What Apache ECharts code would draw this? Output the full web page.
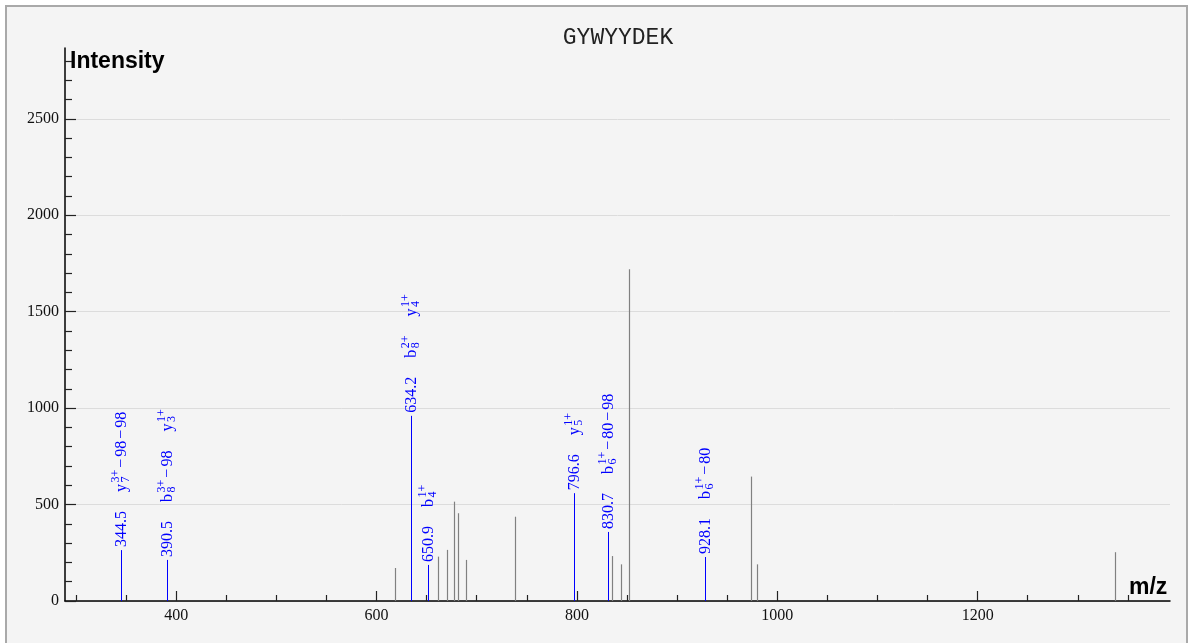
<!DOCTYPE html>
<html><head><meta charset="utf-8">
<script src="https://cdn.jsdelivr.net/npm/echarts@6/dist/echarts.min.js"></script>
<style>
html,body{margin:0;padding:0;background:#fff;overflow:hidden;}
#frame{position:absolute;left:5px;top:5px;width:1179px;height:660px;border:2px solid #a9a9a9;background:#f4f4f4;}
#chart{position:absolute;left:0;top:0;width:1188px;height:643px;}
</style></head><body>
<div id="frame"></div><div id="chart"></div>
<script>
// ---------------- data ----------------
const chartTitle = 'GYWYYDEK';
const yAxisName = 'Intensity';
const xAxisName = 'm/z';
const xMin = 289, xMax = 1392, yMin = 0, yMax = 2867;
const xMajorTicks = [400, 600, 800, 1000, 1200];
const xMinorTicks = [300, 350, 450, 500, 550, 650, 700, 750, 850, 900, 950, 1050, 1100, 1150, 1250, 1300, 1350];
const yMajorTicks = [0, 500, 1000, 1500, 2000, 2500];
const yMinorTicks = [100, 200, 300, 400, 600, 700, 800, 900, 1100, 1200, 1300, 1400, 1600, 1700, 1800, 1900, 2100, 2200, 2300, 2400, 2600, 2700, 2800];

// annotated (matched) peaks
const matchedMz = [344.5, 390.5, 634.2, 650.9, 796.6, 830.7, 928.1];
const matchedIntensity = [264, 213, 960, 187, 559, 358, 228];
// ion label: [ion letter, subscript, superscript, suffix]
const matchedIons = [
  [['y', '7', '3+', '−98−98']],
  [['b', '8', '3+', '−98'], ['y', '3', '1+', '']],
  [['b', '8', '2+', ''], ['y', '4', '1+', '']],
  [['b', '4', '1+', '']],
  [['y', '5', '1+', '']],
  [['b', '6', '1+', '−80−98']],
  [['b', '6', '1+', '−80']]
];

// unannotated peaks
const otherMz = [618.6, 661.3, 670.0, 677.5, 680.8, 689.2, 738.5, 835.0, 844.3, 852.2, 973.4, 980.0, 1337.2];
const otherIntensity = [171, 230, 265, 515, 455, 213, 437, 233, 190, 1720, 645, 190, 253];

// ---------------- style ----------------
const BLUE = '#0000ff';
const GRAY = '#808080';
const SERIF = '"Liberation Serif", "Times New Roman", serif';
const MAIN_SIZE = 16, SCRIPT_SIZE = 12, LABEL_GAP = 19;
const measureCtx = document.createElement('canvas').getContext('2d');
function tw(text, size) {
  measureCtx.font = size + 'px ' + SERIF;
  return measureCtx.measureText(text).width;
}
function txt(text, x, y, size) {
  return {
    type: 'text', x: x, y: y, silent: true,
    style: {
      text: text, fill: BLUE, font: size + 'px ' + SERIF,
      fontSize: size, fontFamily: SERIF,
      align: 'left', verticalAlign: 'middle',
      textAlign: 'left', textVerticalAlign: 'middle'
    }
  };
}
function addIon(kids, ion, x) {
  kids.push(txt(ion[0], x, 0, MAIN_SIZE));
  x += tw(ion[0], MAIN_SIZE) + 1.5;
  kids.push(txt(ion[2], x, -6, SCRIPT_SIZE));
  kids.push(txt(ion[1], x, 4, SCRIPT_SIZE));
  x += Math.max(tw(ion[2], SCRIPT_SIZE), tw(ion[1], SCRIPT_SIZE));
  const parts = ion[3].split(/(−)/).filter(function (s) { return s.length; });
  parts.forEach(function (p) {
    if (p === '−') {
      x += 2;
      kids.push(txt('−', x, 0, MAIN_SIZE));
      x += tw('−', MAIN_SIZE) + 2;
    } else {
      kids.push(txt(p, x, 0, MAIN_SIZE));
      x += tw(p, MAIN_SIZE);
    }
  });
  return x;
}

function peakLine(api, color, width) {
  const mz = api.value(0), inten = api.value(1);
  const base = api.coord([mz, 0]);
  const top = api.coord([mz, inten]);
  const x = Math.round(base[0]) + 0.5;
  return { type: 'line', silent: true, shape: { x1: x, y1: base[1], x2: x, y2: top[1] }, style: { stroke: color, lineWidth: width, fill: null } };
}
function renderMatchedLine(params, api) { return peakLine(api, BLUE, 1); }
function renderOther(params, api) { return peakLine(api, GRAY, 1.2); }
function renderMatchedLabel(params, api) {
  const mz = api.value(0), inten = api.value(1);
  const base = api.coord([mz, 0]);
  const top = api.coord([mz, inten]);
  const x = Math.round(base[0]) + 0.5;
  const kids = [];
  const valText = matchedMz[params.dataIndex].toFixed(1);
  let cx = 0;
  kids.push(txt(valText, cx, 0, MAIN_SIZE));
  cx += tw(valText, MAIN_SIZE);
  matchedIons[params.dataIndex].forEach(function (ion) {
    cx += LABEL_GAP;
    cx = addIon(kids, ion, cx);
  });
  return { type: 'group', x: x, y: top[1] - 3, rotation: Math.PI / 2, children: kids };
}

const labelStyle = { color: '#111', fontFamily: SERIF, fontSize: 16, formatter: function (v) { return String(v); } };
const chart = echarts.init(document.getElementById('chart'), null, { renderer: 'canvas' });
const matchedData = matchedMz.map(function (m, i) { return [m, matchedIntensity[i]]; });
chart.setOption({
  backgroundColor: 'transparent',
  animation: false,
  grid: { left: 65, right: 18, top: 48, bottom: 42, containLabel: false },
  xAxis: [
    {
      type: 'value', min: xMin, max: xMax, position: 'bottom',
      axisLine: { show: true, onZero: false, lineStyle: { color: '#000', width: 1.5 } },
      axisTick: { show: true, inside: true, length: 10, customValues: xMajorTicks, lineStyle: { color: '#222', width: 1.2 } },
      axisLabel: Object.assign({ customValues: xMajorTicks, margin: 7 }, labelStyle),
      splitLine: { show: false }
    },
    {
      type: 'value', min: xMin, max: xMax, position: 'bottom',
      axisLine: { show: false, onZero: false },
      axisTick: { show: true, inside: true, length: 6, customValues: xMinorTicks, lineStyle: { color: '#222', width: 1.2 } },
      axisLabel: { show: false },
      splitLine: { show: false }
    }
  ],
  yAxis: [
    {
      type: 'value', min: yMin, max: yMax, position: 'left',
      axisLine: { show: true, onZero: false, lineStyle: { color: '#000', width: 1.5 } },
      axisTick: { show: true, inside: true, length: 11, customValues: yMajorTicks, lineStyle: { color: '#222', width: 1.2 } },
      axisLabel: Object.assign({ customValues: yMajorTicks, margin: 6 }, labelStyle),
      splitLine: { show: true, lineStyle: { color: '#dcdcdc', width: 1 } }
    },
    {
      type: 'value', min: yMin, max: yMax, position: 'left',
      axisLine: { show: false, onZero: false },
      axisTick: { show: true, inside: true, length: 7, customValues: yMinorTicks, lineStyle: { color: '#222', width: 1.2 } },
      axisLabel: { show: false },
      splitLine: { show: false }
    }
  ],
  graphic: [
    { type: 'text', x: 618, y: 38, silent: true,
      style: { text: chartTitle, fill: '#222', font: '23px "Liberation Mono", monospace', align: 'center', verticalAlign: 'middle', textAlign: 'center', textVerticalAlign: 'middle' } },
    { type: 'text', x: 70, y: 62, silent: true,
      style: { text: yAxisName, fill: '#000', font: 'bold 23px "Liberation Sans", Arial, sans-serif', align: 'left', verticalAlign: 'middle', textAlign: 'left', textVerticalAlign: 'middle' } },
    { type: 'text', x: 1129, y: 588, silent: true,
      style: { text: xAxisName, fill: '#000', font: 'bold 23px "Liberation Sans", Arial, sans-serif', align: 'left', verticalAlign: 'middle', textAlign: 'left', textVerticalAlign: 'middle' } }
  ],
  series: [
    {
      type: 'custom', name: 'unmatched', xAxisIndex: 0, yAxisIndex: 0, clip: false, silent: true, z: 2,
      encode: { x: 0, y: 1 },
      data: otherMz.map(function (m, i) { return [m, otherIntensity[i]]; }),
      renderItem: renderOther
    },
    {
      type: 'custom', name: 'matched', xAxisIndex: 0, yAxisIndex: 0, clip: false, silent: true, z: 3,
      encode: { x: 0, y: 1 },
      data: matchedData,
      renderItem: renderMatchedLine
    },
    {
      type: 'custom', name: 'matched labels', xAxisIndex: 0, yAxisIndex: 0, clip: false, silent: true, z: 4,
      encode: { x: 0, y: 1 },
      data: matchedData,
      renderItem: renderMatchedLabel
    }
  ]
});
</script>
</body></html>
